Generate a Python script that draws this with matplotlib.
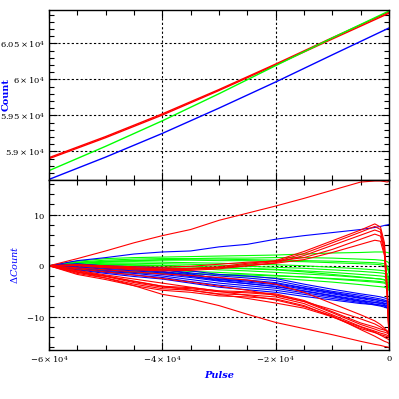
import matplotlib
matplotlib.use("Agg")
import matplotlib.pyplot as plt
from matplotlib.ticker import MultipleLocator, FixedLocator, FixedFormatter

plt.rcParams['font.family'] = 'DejaVu Serif'
plt.rcParams['mathtext.fontset'] = 'dejavuserif'

# ---- top panel: count vs pulse ----
top_pulse = [-60000, -50000, -40000, -30000, -20000, -10000, 0]
count_red_a = [58898, 59190, 59504, 59845, 60199, 60560, 60917]
count_red_b = [58912, 59205, 59520, 59858, 60212, 60578, 60935]
count_green = [58732, 59070, 59424, 59800, 60190, 60575, 60949]
count_blue = [58610, 58920, 59249, 59600, 59963, 60340, 60713]

top_yticks = [59000, 59500, 60000, 60500]
top_ylabels = [r'$5.9\times10^{4}$', r'$5.95\times10^{4}$', r'$6\times10^{4}$', r'$6.05\times10^{4}$']

# ---- bottom panel: delta count traces ----
pulse = [-60000, -55000, -50000, -45000, -40000, -35000, -30000, -25000,
         -20000, -15000, -10000, -5000, -2500, -1500, -800, -300, 0]

red_traces = [
    [0, 1.4, 2.9, 4.5, 5.9, 7.1, 8.9, 10.3, 11.7, 13.2, 14.8, 16.4, 16.6, 16.6, 16.5, 16.4, 16.6],
    [0, 0.2, -0.1, -0.4, -0.6, -0.5, -0.2, 0.5, 1.0, 2.8, 4.9, 7.0, 8.2, 7.6, 4.5, -4.0, -13.2],
    [0, 0.1, -0.3, -0.6, -0.8, -0.7, -0.4, 0.3, 0.8, 2.4, 4.5, 6.6, 7.7, 7.1, 3.8, -5.0, -13.5],
    [0, 0.0, -0.4, -0.8, -1.0, -0.9, -0.6, 0.0, 0.6, 2.0, 4.0, 6.0, 7.0, 6.6, 3.0, -6.0, -13.8],
    [0, 0.1, -0.2, -0.5, -0.7, -0.6, -0.4, 0.0, 0.5, 1.2, 2.6, 4.2, 5.0, 4.8, 2.0, -6.5, -14.0],
    [0, 0.2, 0.0, -0.2, -0.3, -0.1, 0.3, 0.7, 0.9, 1.6, 3.2, 5.2, 6.2, 5.8, 2.5, -5.8, -13.6],
    [0, -1.3, -2.1, -3.3, -4.2, -4.5, -5.1, -5.3, -5.7, -7.0, -9.2, -11.5, -12.4, -12.8, -13.0, -13.2, -13.4],
    [0, -1.5, -2.4, -3.6, -4.5, -4.8, -5.5, -5.7, -6.1, -7.4, -9.6, -11.9, -12.8, -13.2, -13.4, -13.6, -13.8],
    [0, -1.7, -2.7, -3.9, -4.8, -5.2, -5.9, -6.1, -6.5, -7.8, -10.0, -12.3, -13.1, -13.5, -13.7, -13.9, -14.1],
    [0, -1.2, -2.0, -3.1, -4.0, -4.3, -4.9, -5.1, -5.5, -6.8, -9.0, -11.2, -12.0, -12.4, -12.6, -12.8, -13.1],
    [0, -1.2, -2.4, -3.9, -5.6, -6.5, -7.8, -9.5, -11.1, -12.3, -13.5, -14.8, -15.4, -15.6, -15.8, -15.9, -16.0],
    [0, -1.0, -2.0, -3.0, -4.0, -4.8, -5.6, -6.4, -7.3, -8.3, -10.0, -12.0, -13.0, -13.6, -14.0, -14.3, -14.5],
    [0, -0.9, -1.8, -2.6, -3.4, -4.2, -5.0, -5.8, -6.7, -8.0, -9.8, -12.5, -13.8, -14.4, -14.8, -15.0, -15.2],
    [0, -0.6, -1.2, -1.8, -2.5, -3.2, -4.0, -4.8, -5.8, -7.0, -8.6, -10.4, -11.4, -12.0, -12.5, -12.9, -13.3],
    [0, -0.4, -0.8, -1.2, -1.6, -1.9, -2.3, -2.8, -3.6, -5.2, -7.4, -9.6, -10.8, -11.5, -12.2, -12.8, -13.5],
]

green_traces = [
    [0, 0.9, 1.4, 1.6, 1.7, 1.8, 1.9, 2.0, 2.1, 2.3, 2.5, 2.6, 2.7, 2.7, 2.7, 2.6, 2.5],
    [0, 0.7, 1.1, 1.3, 1.4, 1.4, 1.5, 1.5, 1.6, 1.6, 1.5, 1.3, 1.2, 1.1, 1.0, 0.8, 0.5],
    [0, 0.6, 0.9, 1.0, 1.1, 1.1, 1.0, 1.0, 0.9, 0.8, 0.6, 0.4, 0.3, 0.2, 0.0, -0.5, -1.5],
    [0, 0.5, 0.7, 0.8, 0.7, 0.6, 0.5, 0.3, 0.2, 0.0, -0.3, -0.6, -0.8, -0.9, -1.0, -1.5, -2.5],
    [0, 0.3, 0.5, 0.5, 0.4, 0.3, 0.1, -0.1, -0.3, -0.5, -0.8, -1.1, -1.3, -1.4, -1.5, -2.0, -3.0],
    [0, 0.2, 0.3, 0.2, 0.1, -0.1, -0.3, -0.5, -0.7, -1.0, -1.3, -1.7, -1.9, -2.0, -2.1, -2.6, -3.5],
    [0, 0.0, 0.0, -0.1, -0.3, -0.5, -0.8, -1.0, -1.3, -1.6, -1.9, -2.3, -2.5, -2.6, -2.7, -3.2, -4.0],
    [0, -0.3, -0.5, -0.7, -0.9, -1.1, -1.3, -1.6, -1.9, -2.2, -2.6, -3.0, -3.2, -3.3, -3.4, -3.8, -4.5],
    [0, -0.6, -0.9, -1.1, -1.3, -1.5, -1.8, -2.1, -2.4, -2.8, -3.2, -3.7, -4.0, -4.1, -4.2, -4.5, -4.8],
    [0, -0.8, -1.2, -1.4, -1.5, -1.6, -1.7, -1.8, -2.0, -2.2, -2.5, -2.8, -3.0, -3.1, -3.2, -3.6, -4.2],
    [0, 0.4, 0.8, 1.0, 1.2, 1.3, 1.3, 1.2, 1.1, 1.0, 0.9, 0.7, 0.6, 0.5, 0.4, 0.0, -1.0],
    [0, 0.1, 0.2, 0.1, 0.0, -0.2, -0.4, -0.6, -0.8, -1.2, -1.7, -2.2, -2.5, -2.6, -2.8, -3.3, -4.2],
]

blue_traces = [
    [0, 1.0, 1.6, 2.3, 2.7, 2.9, 3.7, 4.2, 5.2, 5.9, 6.5, 7.1, 7.5, 7.7, 7.9, 8.0, 8.1],
    [0, 0.3, 0.0, -0.2, -0.4, -1.0, -1.7, -2.0, -2.5, -3.6, -4.6, -5.5, -5.9, -6.1, -6.3, -6.5, -6.6],
    [0, 0.1, -0.3, -0.5, -0.8, -1.4, -2.0, -2.4, -2.9, -4.0, -5.0, -5.8, -6.3, -6.5, -6.7, -6.9, -7.0],
    [0, 0.0, -0.5, -0.8, -1.1, -1.8, -2.4, -2.8, -3.3, -4.3, -5.2, -6.1, -6.6, -6.8, -7.0, -7.2, -7.3],
    [0, -0.2, -0.7, -1.0, -1.4, -2.1, -2.7, -3.2, -3.7, -4.6, -5.5, -6.4, -6.9, -7.1, -7.3, -7.5, -7.6],
    [0, -0.3, -0.9, -1.3, -1.7, -2.3, -3.0, -3.5, -4.0, -4.9, -5.8, -6.7, -7.2, -7.4, -7.6, -7.8, -7.9],
    [0, -0.5, -1.1, -1.5, -2.0, -2.7, -3.4, -3.9, -4.4, -5.3, -6.1, -7.0, -7.5, -7.7, -7.9, -8.1, -8.2],
    [0, -0.6, -1.3, -1.8, -2.3, -3.1, -3.8, -4.3, -4.8, -5.6, -6.4, -7.2, -7.7, -7.9, -8.1, -8.3, -8.4],
    [0, -0.8, -1.5, -2.1, -2.6, -3.4, -4.2, -4.7, -5.2, -6.0, -6.7, -7.4, -7.6, -7.7, -7.8, -7.9, -8.0],
    [0, 0.2, -0.4, -0.8, -1.2, -2.0, -2.9, -3.5, -4.1, -5.0, -5.9, -6.9, -7.2, -7.3, -7.4, -7.5, -7.6],
    [0, 0.4, -0.1, -0.4, -0.7, -1.6, -2.6, -3.0, -3.5, -4.4, -5.3, -6.3, -6.6, -6.8, -6.9, -7.0, -7.1],
]

x_ticks = [-60000, -40000, -20000, 0]
x_labels = [r'$-6\times10^{4}$', r'$-4\times10^{4}$', r'$-2\times10^{4}$', r'$0$']
bot_yticks = [-10, 0, 10]
bot_ylabels = [r'$-10$', r'$0$', r'$10$']

RED, GREEN, BLUE = '#ff0000', '#00ff00', '#0000ff'

fig = plt.figure(figsize=(3.99, 3.99), dpi=100)
ax_top = fig.add_axes([0.1228, 0.5489, 0.8521, 0.4261])
ax_bot = fig.add_axes([0.1228, 0.1228, 0.8521, 0.4261])


def style_axis(ax):
    ax.set_xlim(-60000, 0)
    ax.xaxis.set_major_locator(FixedLocator(x_ticks))
    ax.xaxis.set_minor_locator(MultipleLocator(5000))
    ax.tick_params(which='both', direction='in', top=True, right=True,
                   colors='black', labelsize=6, pad=3, width=0.8)
    ax.tick_params(which='major', length=6)
    ax.tick_params(which='minor', length=3.5)
    for s in ax.spines.values():
        s.set_linewidth(1.0)
    ax.grid(True, which='major', color='black', linestyle=(0, (2, 2)), linewidth=0.8)
    ax.set_axisbelow(True)


# top panel
ax_top.plot(top_pulse, count_blue, color=BLUE, lw=1.0)
ax_top.plot(top_pulse, count_red_a, color=RED, lw=1.0)
ax_top.plot(top_pulse, count_red_b, color=RED, lw=1.0)
ax_top.plot(top_pulse, count_green, color=GREEN, lw=1.0)
style_axis(ax_top)
ax_top.set_ylim(58602, 60963)
ax_top.yaxis.set_major_locator(FixedLocator(top_yticks))
ax_top.yaxis.set_major_formatter(FixedFormatter(top_ylabels))
ax_top.yaxis.set_minor_locator(MultipleLocator(100))
ax_top.tick_params(labelbottom=False)
ax_top.set_ylabel('Count', color=BLUE, fontsize=7, fontweight='bold')

# bottom panel
for tr in green_traces:
    ax_bot.plot(pulse, tr, color=GREEN, lw=0.8)
for tr in blue_traces:
    ax_bot.plot(pulse, tr, color=BLUE, lw=0.8)
for tr in red_traces:
    ax_bot.plot(pulse, tr, color=RED, lw=0.8)
style_axis(ax_bot)
ax_bot.set_ylim(-16.5, 16.8)
ax_bot.yaxis.set_major_locator(FixedLocator(bot_yticks))
ax_bot.yaxis.set_major_formatter(FixedFormatter(bot_ylabels))
ax_bot.yaxis.set_minor_locator(MultipleLocator(2))
ax_bot.xaxis.set_major_formatter(FixedFormatter(x_labels))
ax_bot.set_ylabel(r'$\Delta$Count', color=BLUE, fontsize=7, style='italic')
ax_bot.set_xlabel('Pulse', color=BLUE, fontsize=7, style='italic', fontweight='bold', labelpad=4)

ax_top.yaxis.set_label_coords(-0.112, 0.5)
ax_bot.yaxis.set_label_coords(-0.085, 0.5)

fig.savefig('out.png', dpi=100)
